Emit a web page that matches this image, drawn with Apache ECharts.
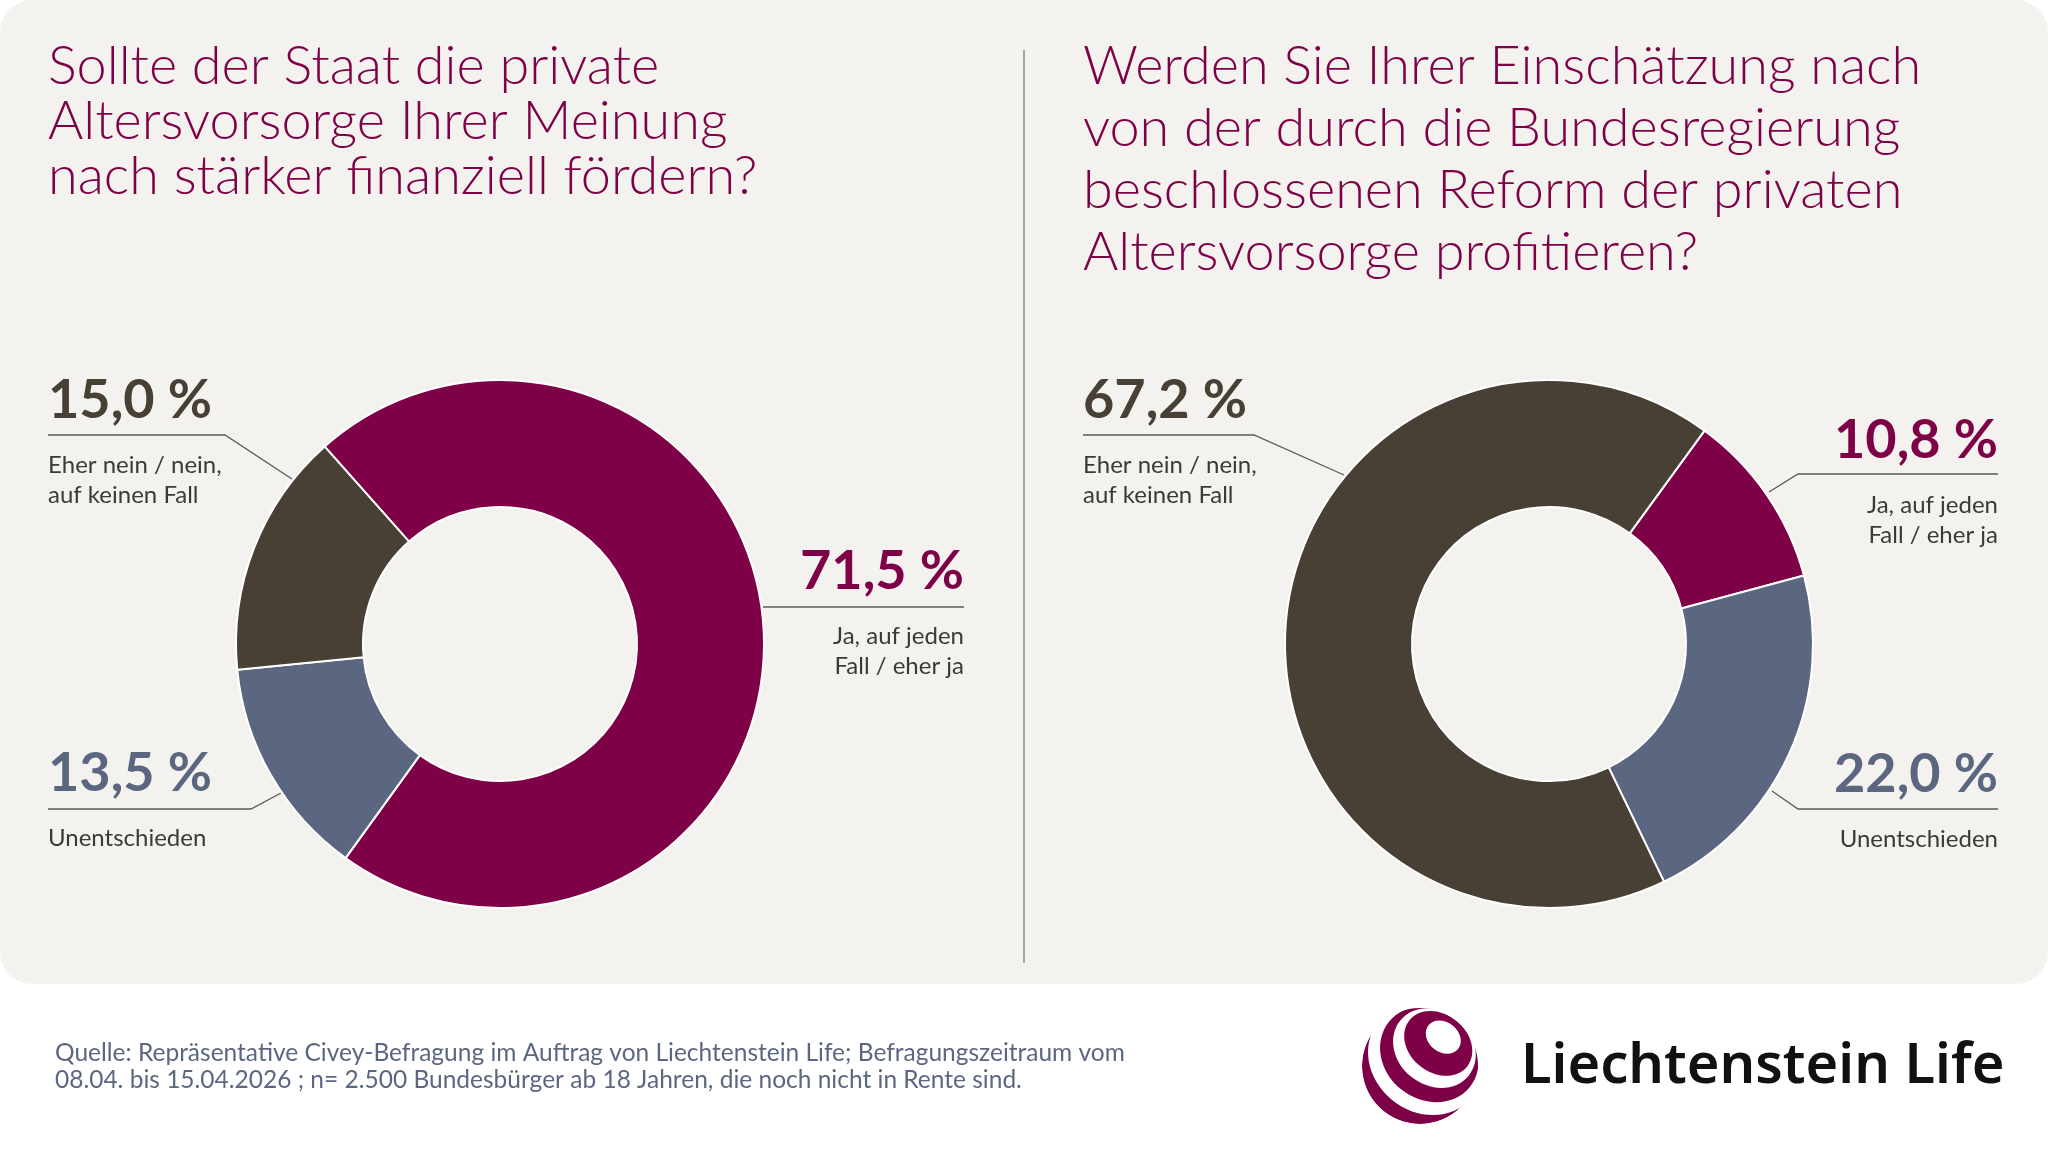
<!DOCTYPE html>
<html>
<head>
<meta charset="utf-8">
<script src="https://cdn.jsdelivr.net/npm/echarts@6/dist/echarts.min.js"></script>
<style>
  html, body { margin: 0; background: #fff; }
  #main { width: 2048px; height: 1152px; }
</style>
</head>
<body>
<div id="main"></div>
<script>
// data
const categories = ['Ja, auf jeden Fall / eher ja', 'Unentschieden', 'Eher nein / nein, auf keinen Fall'];
const categoryLines = [['Ja, auf jeden', 'Fall / eher ja'], ['Unentschieden'], ['Eher nein / nein,', 'auf keinen Fall']];
const valuesStaat = [71.5, 13.5, 15.0];
const valuesReform = [10.8, 22.0, 67.2];
const colors = ['#7e0047', '#5b6781', '#483f35'];
const titleStaat = 'Sollte der Staat die private\nAltersvorsorge Ihrer Meinung\nnach stärker finanziell fördern?';
const titleReform = 'Werden Sie Ihrer Einschätzung nach\nvon der durch die Bundesregierung\nbeschlossenen Reform der privaten\nAltersvorsorge profitieren?';
const sourceText = 'Quelle: Repräsentative Civey-Befragung im Auftrag von Liechtenstein Life; Befragungszeitraum vom\n08.04. bis 15.04.2026 ; n= 2.500 Bundesbürger ab 18 Jahren, die noch nicht in Rente sind.';

// label placement (layout only)
const labelPos = [
  [
    { x: 964, top: 540, align: 'right', line: [[763, 607], [870, 607], [964, 607]] },
    { x: 48, top: 742, align: 'left', line: [[281, 793], [251, 809], [48, 809]] },
    { x: 48, top: 369, align: 'left', line: [[292, 479], [225, 435], [48, 435]] }
  ],
  [
    { x: 1998, top: 409, align: 'right', line: [[1769, 492], [1798, 474], [1998, 474]] },
    { x: 1998, top: 743, align: 'right', line: [[1772, 791], [1798, 809], [1998, 809]] },
    { x: 1083, top: 369, align: 'left', line: [[1344, 475], [1254, 435], [1083, 435]] }
  ]
];

const myChart = echarts.init(document.getElementById('main'));

function fmt(v) {
  return v.toFixed(1).replace('.', ',') + ' %';
}

function makePie(values, center, startAngle, chartIdx) {
  return {
    type: 'pie',
    center: center,
    radius: [137, 264],
    startAngle: startAngle,
    clockwise: true,
    avoidLabelOverlap: false,
    silent: true,
    itemStyle: { borderColor: '#ffffff', borderWidth: 2 },
    label: {
      show: true,
      position: 'outside',
      formatter: function (p) {
        const desc = categoryLines[p.dataIndex].map(t => '{desc|' + t + '}').join('\n');
        return '{pct|' + fmt(p.value) + '}\n{gap| }\n' + desc;
      },
      rich: {
        pct: { fontFamily: 'Lato', fontWeight: 700, fontSize: 54, lineHeight: 64 },
        gap: { fontSize: 1, lineHeight: 17 },
        desc: { fontFamily: 'Lato', fontSize: 24, lineHeight: 30, color: '#3c3a37' }
      }
    },
    labelLine: {
      show: true,
      length: 10,
      length2: 10,
      lineStyle: { color: '#5a5a5a', width: 1.3 }
    },
    labelLayout: function (params) {
      const L = labelPos[chartIdx][params.dataIndex];
      return {
        x: L.x,
        y: L.top,
        align: L.align,
        verticalAlign: 'top',
        labelLinePoints: L.line
      };
    },
    data: values.map((v, i) => ({
      value: v,
      name: categories[i],
      itemStyle: { color: colors[i] },
      label: { color: colors[i] }
    }))
  };
}

// logo: nested ellipses along the pole direction, masked by a white ring
const logoC = [1420, 1066];
const pole = [0.63, -0.78];
const logoRot = -Math.atan2(0.63, 0.78);
const logoBands = [
  // [offset, rx, ry, fill]
  [8, 60, 52, '#ffffff'],
  [15, 52, 45, '#7e0047'],
  [23, 44, 37, '#ffffff'],
  [29, 37, 29, '#7e0047'],
  [37, 19, 15, '#ffffff']
];
const logoEls = [
  { type: 'circle', shape: { cx: logoC[0], cy: logoC[1], r: 58 }, style: { fill: '#7e0047' } }
].concat(logoBands.map(b => ({
  type: 'ellipse',
  x: logoC[0] + b[0] * pole[0],
  y: logoC[1] + b[0] * pole[1],
  rotation: logoRot,
  shape: { cx: 0, cy: 0, rx: b[1], ry: b[2] },
  style: { fill: b[3] }
}))).concat([
  { type: 'ring', shape: { cx: logoC[0], cy: logoC[1], r0: 58, r: 80 }, style: { fill: '#ffffff' } }
]);

const option = {
  backgroundColor: '#ffffff',
  animation: false,
  title: [
    {
      text: titleStaat, left: 48, top: 39, padding: 0,
      textStyle: { fontFamily: 'Lato', fontWeight: 300, fontSize: 54, lineHeight: 55, color: '#7e0047' }
    },
    {
      text: titleReform, left: 1083, top: 36, padding: 0,
      textStyle: { fontFamily: 'Lato', fontWeight: 300, fontSize: 54, lineHeight: 62, color: '#7e0047' }
    },
    {
      text: sourceText, left: 55, top: 1040, padding: 0,
      textStyle: { fontFamily: 'Lato', fontWeight: 400, fontSize: 24.5, lineHeight: 27, color: '#5b6781' }
    }
  ],
  graphic: [
    {
      type: 'rect', z: -10,
      shape: { x: 0, y: 0, width: 2048, height: 984, r: 32 },
      style: { fill: '#f3f2ef' }
    },
    {
      type: 'line',
      shape: { x1: 1024, y1: 50, x2: 1024, y2: 963 },
      style: { stroke: '#8c8c8c', lineWidth: 1.5 }
    },
    { type: 'group', children: logoEls },
    {
      type: 'text',
      x: 1521, y: 1067,
      style: {
        text: 'Liechtenstein Life',
        fontFamily: 'Noto Sans', fontWeight: 600, fontSize: 56,
        fill: '#111111', verticalAlign: 'middle'
      }
    }
  ],
  series: [
    makePie(valuesStaat, [500, 644], 131.6, 0),
    makePie(valuesReform, [1549, 644], 53.9, 1)
  ]
};

myChart.setOption(option);
</script>
</body>
</html>
